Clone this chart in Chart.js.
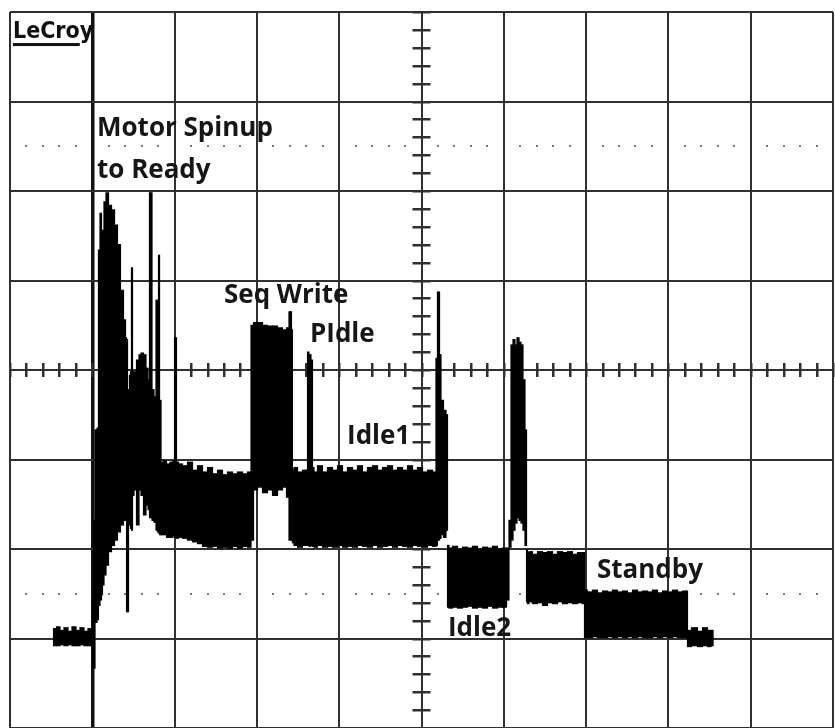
<!DOCTYPE html>
<html><head><meta charset="utf-8">
<script src="https://cdn.jsdelivr.net/npm/chart.js@4.4.1/dist/chart.umd.min.js"></script>
<style>html,body{margin:0;padding:0;background:#fff;}#wrap{width:835px;height:728px;}</style>
</head><body><div id="wrap"><canvas id="c" width="835" height="728"></canvas></div>
<script>
// Time axis in graticule divisions (10 div full screen)
const timeDiv = [
  0.547,0.583,0.632,0.680,0.729,0.778,0.826,0.875,0.923,0.972,0.996,
  1.009,1.021,1.045,1.069,1.081,1.106,1.118,1.130,1.154,1.179,1.215,1.252,1.288,1.324,1.361,1.397,1.410,1.422,1.434,
  1.446,1.458,1.470,1.482,1.495,1.519,1.555,1.580,1.604,1.640,1.665,1.689,1.701,1.713,1.738,1.762,1.786,1.798,1.811,1.823,
  1.847,1.883,1.920,1.968,1.993,2.005,2.017,2.029,2.066,2.126,2.187,2.248,2.309,2.369,2.430,2.491,2.552,2.612,2.673,2.734,2.795,2.855,2.916,
  2.941,2.977,3.038,3.098,3.159,3.220,3.281,3.341,3.378,3.402,3.414,3.426,
  3.438,3.463,3.524,3.584,3.609,3.621,3.645,3.669,3.682,
  3.706,3.767,3.827,3.888,3.949,4.010,4.070,4.131,4.192,4.253,4.313,4.374,4.435,4.496,4.557,4.617,4.678,4.739,4.800,4.860,4.921,4.982,5.043,5.103,5.164,
  5.188,5.200,5.213,5.225,5.249,5.285,5.310,
  5.322,5.346,5.407,5.468,5.529,5.589,5.650,5.711,5.772,5.832,5.893,5.954,6.015,6.051,
  6.075,6.100,6.124,6.148,6.173,6.197,6.221,6.245,6.270,
  6.282,6.294,6.318,6.379,6.440,6.501,6.561,6.622,6.683,6.744,6.804,6.865,6.926,6.974,
  6.987,7.047,7.108,7.169,7.230,7.290,7.351,7.412,7.473,7.533,7.594,7.655,7.716,7.776,7.837,7.898,7.959,8.019,8.080,8.141,8.202,8.226,
  8.238,8.323,8.384,8.445,8.505,8.530
];
// Upper edge of the trace envelope (divisions from centre)
const upperDiv = [
  -2.89,-2.87,-2.91,-2.88,-2.92,-2.87,-2.91,-2.88,-2.92,-2.89,-2.91,
  -2.57,-1.68,-0.67,-0.65,1.34,1.75,1.34,1.56,1.88,1.98,1.84,1.79,1.62,1.40,0.89,0.56,0.36,0.34,-0.22,
  -0.34,-0.06,-0.02,1.14,-0.02,-0.02,0.11,0.17,0.19,0.17,0.02,-0.11,1.98,1.98,-0.22,-0.30,0.78,-0.34,1.28,-0.34,
  -1.03,-1.01,-1.05,-1.03,-1.01,0.36,0.36,-1.03,-1.05,-1.07,-1.03,-1.12,-1.07,-1.14,-1.09,-1.16,-1.12,-1.17,-1.14,-1.16,-1.14,-1.16,-1.14,
  0.50,0.53,0.53,0.50,0.49,0.49,0.47,0.45,0.47,0.65,0.65,0.45,
  -1.12,-1.09,-1.14,-1.12,-1.12,0.20,0.17,0.11,-1.09,
  -1.14,-1.07,-1.14,-1.09,-1.12,-1.07,-1.14,-1.09,-1.12,-1.07,-1.14,-1.09,-1.07,-1.12,-1.09,-1.07,-1.12,-1.09,-1.12,-1.07,-1.12,-1.09,-1.14,-1.12,-1.14,
  0.13,0.87,0.87,0.17,-0.34,-0.45,-0.50,
  -1.96,-1.99,-1.97,-2.00,-1.98,-1.99,-1.97,-2.00,-1.98,-1.99,-1.97,-2.00,-1.99,-1.99,
  -1.68,0.28,0.34,0.28,0.36,0.31,0.28,-0.11,-0.67,
  -2.01,-2.04,-2.03,-2.06,-2.03,-2.04,-2.03,-2.06,-2.03,-2.04,-2.03,-2.06,-2.04,-2.04,
  -2.46,-2.48,-2.46,-2.49,-2.47,-2.48,-2.46,-2.48,-2.47,-2.49,-2.46,-2.48,-2.47,-2.48,-2.46,-2.49,-2.47,-2.48,-2.46,-2.48,-2.47,-2.47,
  -2.91,-2.88,-2.92,-2.88,-2.91,-2.91
];
// Lower edge of the trace envelope (divisions from centre)
const lowerDiv = [
  -3.08,-3.08,-3.07,-3.08,-3.07,-3.08,-3.08,-3.07,-3.08,-3.08,-3.08,
  -3.33,-3.33,-2.82,-2.79,-2.63,-2.57,-2.51,-2.40,-2.29,-2.18,-2.03,-1.96,-1.90,-1.81,-1.73,-1.68,-1.68,-2.70,-2.70,
  -1.73,-1.73,-1.77,-1.79,-1.40,-1.34,-1.73,-1.34,-1.40,-1.62,-1.51,-1.56,-1.65,-1.65,-1.68,-1.70,-1.79,-1.81,-1.82,-1.84,
  -1.84,-1.84,-1.87,-1.87,-1.85,-1.87,-1.87,-1.88,-1.87,-1.88,-1.90,-1.92,-1.94,-1.97,-1.98,-1.97,-1.99,-1.98,-1.99,-1.97,-1.99,-1.97,-1.98,
  -1.90,-1.34,-1.31,-1.37,-1.34,-1.40,-1.34,-1.31,-1.42,-1.90,-1.90,-1.90,
  -1.93,-1.96,-1.98,-1.96,-1.96,-1.96,-1.97,-1.96,-1.97,
  -1.98,-1.96,-1.98,-1.97,-1.98,-1.96,-1.98,-1.97,-1.98,-1.96,-1.97,-1.98,-1.96,-1.98,-1.97,-1.96,-1.98,-1.96,-1.97,-1.98,-1.96,-1.97,-1.98,-1.96,-1.97,
  -1.96,-1.90,-1.90,-1.88,-1.84,-1.87,-1.79,
  -2.65,-2.66,-2.65,-2.66,-2.65,-2.64,-2.66,-2.65,-2.66,-2.64,-2.66,-2.65,-2.65,-2.57,
  -1.98,-1.90,-1.79,-1.71,-1.65,-1.68,-1.71,-1.79,-1.96,
  -2.59,-2.61,-2.59,-2.61,-2.60,-2.63,-2.60,-2.61,-2.59,-2.61,-2.60,-2.61,-2.60,-2.61,
  -2.99,-2.99,-2.98,-2.99,-2.99,-2.98,-2.99,-2.98,-2.99,-2.98,-2.99,-2.98,-2.99,-2.99,-2.98,-2.99,-2.98,-2.99,-2.98,-2.99,-2.99,-2.99,
  -3.09,-3.08,-3.09,-3.08,-3.09,-3.08
];
// Annotation texts and their anchor (time div, level div)
const labelTexts = ['LeCroy','Motor Spinup','to Ready','Seq Write','PIdle','Idle1','Idle2','Standby'];
const labelTime  = [0.036, 1.057, 1.057, 2.600, 3.645, 4.095, 5.322, 7.132];
const labelLevel = [3.709, 2.615, 2.145, 0.749, 0.313, -0.827, -2.972, -2.324];
// Trigger position (div)
const triggerDiv = 1;

const tracePts = timeDiv.map((t,i)=>({x:t, y:[lowerDiv[i], upperDiv[i]]}));

const GRID = '#303030';
const graticule = {
  id:'graticule',
  beforeDatasetsDraw(chart){
    const {ctx, scales:{x,y}} = chart;
    const xc = x.getPixelForValue((x.min+x.max)/2);
    const yc = y.getPixelForValue((y.min+y.max)/2);
    ctx.save();
    ctx.fillStyle = GRID;
    for(let k=0;k<=(x.max-x.min)*5;k++){
      const px = Math.round(x.getPixelForValue(x.min+k/5));
      ctx.fillRect(px-1, yc-7, 2.5, 14);
    }
    for(let k=0;k<=(y.max-y.min)*5;k++){
      const py = Math.round(y.getPixelForValue(y.min+k/5));
      ctx.fillRect(xc-9, py-1, 18, 2.5);
    }
    ctx.fillStyle = '#7a7a7a';
    [2.5,-2.5].forEach(v=>{
      const py = Math.round(y.getPixelForValue(v));
      for(let k=0;k<=(x.max-x.min)*5;k++){
        if(k%5===0) continue;
        const px = Math.round(x.getPixelForValue(x.min+k/5));
        ctx.fillRect(px-1, py-1, 2, 2);
      }
    });
    ctx.restore();
  }
};
const annotations = {
  id:'annotations',
  afterDraw(chart){
    const {ctx, scales:{x,y}} = chart;
    ctx.save();
    ctx.textBaseline = 'alphabetic';
    ctx.textAlign = 'left';
    labelTexts.forEach((t,i)=>{
      const px = x.getPixelForValue(labelTime[i]);
      const py = y.getPixelForValue(labelLevel[i]);
      if(i===0){
        ctx.font = 'bold 23px "DejaVu Sans Condensed", "DejaVu Sans"';
        ctx.fillStyle = '#111';
        ctx.fillText(t, px, py);
        const w = ctx.measureText(t.slice(0,5)).width;
        ctx.fillRect(px, py+5, w, 3);
      } else {
        ctx.font = 'bold 26px "Open Sans"';
        ctx.fillStyle = '#161616';
        ctx.fillText(t, px, py);
      }
    });
    ctx.restore();
  }
};

new Chart(document.getElementById('c'), {
  type:'bar',
  data:{datasets:[
    {data:tracePts, backgroundColor:'#000', borderWidth:0, borderSkipped:false,
     barThickness:'flex', barPercentage:1, categoryPercentage:1, inflateAmount:0.6}
  ]},
  options:{
    responsive:false, animation:false, devicePixelRatio:1,
    layout:{padding:{left:10, top:12, right:2, bottom:0}},
    plugins:{legend:{display:false}, tooltip:{enabled:false}},
    scales:{
      x:{type:'linear', min:0, max:10, offset:false, ticks:{stepSize:1, display:false},
         grid:{color:c => (c.tick && c.tick.value===triggerDiv) ? '#111' : GRID,
               lineWidth:c => (c.tick && c.tick.value===triggerDiv) ? 3.5 : 2,
               drawTicks:false, offset:false}, border:{display:false}},
      y:{type:'linear', min:-4, max:4, ticks:{stepSize:1, display:false},
         grid:{color:GRID, lineWidth:2, drawTicks:false}, border:{display:false}}
    }
  },
  plugins:[graticule, annotations]
});
</script></body></html>
